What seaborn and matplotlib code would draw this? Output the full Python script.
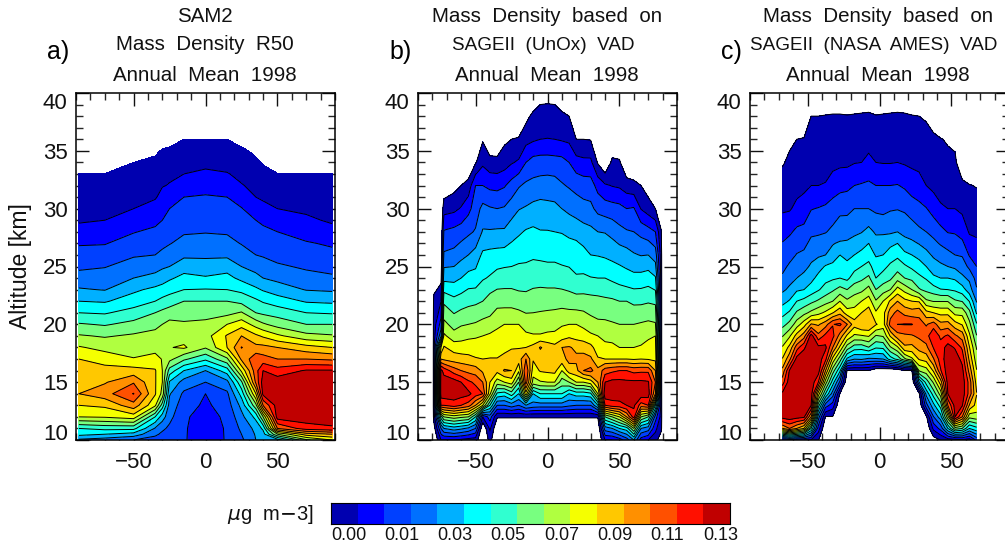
import numpy as np
import matplotlib
matplotlib.use("Agg")
import matplotlib.pyplot as plt
import seaborn as sns

sns.set_theme(style="ticks")
plt.rcParams['font.family'] = ['Liberation Sans', 'DejaVu Sans']

# contour band index (band k lies between level k and k+1), -1 = no data
N = -1
band_colors = ["#0000b0", "#0000ff", "#0040ff", "#0070ff", "#00b0ff",
               "#00ffff", "#30ffd0", "#78ff80", "#b0ff40", "#f5ff00",
               "#ffc800", "#ff9000", "#ff5000", "#ff1000", "#c00000"]
cbar_labels = ["0.00", "0.01", "0.03", "0.05", "0.07", "0.09", "0.11", "0.13"]
band_width = 0.14 / 15

# a) SAM2, one list per latitude, from the lowest altitude upward
a_alt = [10, 10.5, 11] + list(range(12, 37))
a_lat = [-88, -70, -50, -35, -30, -25, -15, 0, 15, 25, 35, 40, 50, 70, 88]
a_cols = [
    [3.8, 5.3, 6, 9, 10, 11, 10.6, 10.3, 10, 9.1, 8.1, 7.1, 6, 5, 4.1, 3.4, 2.8, 2.4, 1.9, 1.3, .9, .7, .5, .25, 0],
    [3.5, 5, 6.3, 9.1, 10.2, 11.6, 10.9, 10.4, 9.55, 8.7, 7.9, 6.9, 5.9, 4.9, 3.95, 3.45, 2.95, 2.4, 1.95, 1.45, 1, .75, .5, .3, .03],
    [3, 4.6, 6.3, 9.5, 11.6, 13.05, 11.9, 10.4, 9.05, 8.6, 8.15, 7.3, 6.4, 5.5, 4.8, 4, 3.4, 2.9, 2.4, 1.95, 1.45, 1, .78, .55, .3, 0],
    [2.6, 3.2, 3.9, 6, 9.2, 10.1, 10.1, 10.1, 9.3, 8.7, 8.35, 7.7, 7, 6, 5.25, 4.25, 3.7, 3, 2.6, 2.2, 1.75, 1.4, .9, .7, .5, .25, -.2],
    [2.5, 2.8, 3.2, 4.5, 6.5, 8.7, 9, 9, 8.95, 8.65, 8.5, 8, 7.25, 6.3, 5.4, 4.55, 3.85, 3.2, 2.8, 2.4, 2, 1.7, 1.3, .95, .7, .45, .1, -.5],
    [2.4, 2.5, 2.8, 3.3, 3.6, 4.1, 4.9, 6.6, 8.3, 8.95, 8.7, 8.3, 7.5, 6.5, 5.65, 4.85, 4, 3.45, 2.95, 2.55, 2.25, 2, 1.6, 1.05, .85, .6, .3, -.6],
    [2.1, 2.1, 2.1, 2.15, 2.5, 2.8, 3.6, 5, 7.2, 9.15, 8.55, 8.15, 7.55, 7, 6, 5.3, 4.55, 3.8, 3.3, 2.9, 2.5, 2.3, 2, 1.5, 1, .7, .35, 0],
    [1.4, 1.45, 1.5, 1.6, 1.8, 2, 3, 4, 6.2, 8.1, 8.6, 8.2, 7.7, 7, 6.05, 5.1, 4.45, 3.8, 3.4, 2.95, 2.5, 2.3, 2.1, 1.6, 1.15, .8, .4, 0],
    [2.1, 2.1, 2.1, 2.2, 2.5, 2.8, 3.7, 5.5, 7.8, 10, 10.1, 9, 7.7, 7, 6, 5.3, 4.6, 3.8, 3.3, 2.9, 2.5, 2.3, 2, 1.45, 1.05, .7, .35, 0],
    [2.8, 3, 3.2, 3.7, 4.3, 5.4, 6.8, 9.2, 11.2, 12.05, 11, 9.6, 8.1, 6.7, 5.75, 4.75, 4, 3.45, 2.95, 2.55, 2.25, 2.05, 1.55, 1.05, .8, .6, .3, -.6],
    [4, 4.1, 4.3, 5.3, 7.7, 10, 12.2, 12.6, 12.7, 11.3, 10.2, 8.6, 7, 6.2, 5.2, 4.25, 3.7, 3, 2.6, 2.2, 2, 1.5, 1, .8, .55, .25, -.3],
    [4.3, 4.6, 5.2, 8, 12, 14.3, 14.5, 14, 12.4, 11.3, 9.85, 8.15, 6.8, 5.9, 4.9, 4, 3.45, 2.9, 2.4, 2.3, 1.75, 1.3, .85, .6, .35, -.1],
    [4.5, 8, 12, 14.5, 14.5, 14.5, 14.6, 13.4, 12, 11, 9.2, 7.6, 6.6, 5.5, 4.5, 3.75, 3.15, 2.65, 2.4, 2, 1.5, 1, .7, .45, .06],
    [7.8, 10.5, 13.5, 14.6, 14.7, 14.7, 14.6, 14.1, 12, 10.4, 8.3, 7, 6, 4.9, 3.95, 3.35, 2.85, 2.5, 2.1, 1.55, 1.2, .8, .55, .3, 0],
    [9, 11, 13.8, 14.7, 14.7, 14.7, 14.7, 14.1, 11.8, 10, 8.1, 7, 5.9, 4.8, 3.85, 3.15, 2.7, 2.3, 1.85, 1.35, .85, .65, .45, .25, 0],
]

# b) SAGEII (UnOx)
b_alt = list(range(10, 21)) + list(range(22, 41, 2))
b_lat = [-80, -79, -74, -72] + list(range(-65, 80, 5)) + [79, 80]
b_cols = [
    [],
    [N, -.5, .4, .6, .6, .6, .6, .6, .6, .5, .5, .3, -.7],
    [1, 3, 6.5, 13, 14.6, 14.6, 14.3, 11, 9, 3.8, 2.4, 1, -.3],
    [1, 4, 8, 13, 14.7, 14.6, 13.6, 10.8, 10.1, 9.2, 8.3, 6.8, 4.7, 3.15, 2.1, .6, -.8],
    [1, 4.5, 8.5, 13.5, 14.6, 14.5, 12.5, 10.5, 9.6, 8.4, 7.6, 6.3, 4.7, 3.3, 2.3, .75, -.35],
    [.8, 4.2, 8.2, 13, 14.5, 14, 12, 10.4, 9.5, 8.6, 7.9, 6.5, 5, 3.7, 2.5, 1.1, 0],
    [.6, 3.8, 8, 12.5, 14.3, 13.2, 11.7, 10.3, 9.5, 8.8, 8, 6.7, 5.4, 4, 2.8, 1.7, .4],
    [.5, 3, 6, 11, 13.5, 12.8, 11.5, 10.1, 9.4, 8.9, 8.1, 6.8, 5.4, 4.4, 3.1, 2.5, 2, -.1],
    [N, N, 1, 9, 13, 12, 10.8, 10, 9.5, 9, 8.3, 7, 5.9, 5.2, 4.1, 3.3, 2, .8, -.1],
    [.3, 1.2, 2.5, 6, 9.2, 10, 10.4, 10.05, 9.5, 9.2, 8.3, 7.45, 6.1, 5.3, 4.1, 3.1, 1.75, .4],
    [N, N, .1, 3, 5.8, 8.5, 10.3, 10.05, 9.5, 9.3, 8.8, 7.65, 6.4, 5.35, 4.15, 3, 1.7, .35],
    [N, N, .1, 3, 5.5, 9, 11.1, 10.2, 9.8, 9.4, 9, 7.6, 6.5, 5.4, 4.15, 3.1, 1.9, .55, -.2],
    [N, N, .1, 3.5, 6.5, 9.5, 11, 10.6, 9.9, 9.4, 9, 7.6, 6.5, 5.5, 4.6, 3.5, 2.4, .9, 0],
    [N, N, .1, 3, 5, 7, 9.2, 10.5, 9.95, 9.4, 9, 7.4, 6.5, 5.7, 4.85, 3.95, 2.9, 1.15, .1],
    [N, N, .1, 4, 9.6, 12.5, 13, 12, 10, 9.2, 8.6, 7.35, 6.5, 5.75, 5.1, 4.1, 3.2, 2, .65, -.3],
    [N, N, .1, 3.6, 5, 8.6, 9.5, 10.1, 10.3, 9.1, 8.5, 7.5, 6.6, 5.85, 5.2, 4.3, 3.3, 2.4, .85, .25],
    [N, N, .1, 3.5, 6, 8.9, 10.1, 10.5, 11.1, 9.1, 8.5, 7.6, 6.6, 5.8, 5.05, 4.4, 3.4, 2.45, 1, .3, -.3],
    [N, N, .1, 3.5, 6, 9, 10.2, 10.4, 10.6, 9.2, 8.6, 7.6, 6.55, 5.75, 5.05, 4.3, 3.45, 2.45, 1.03, .35, -.3],
    [N, N, .1, 3.5, 6, 9, 10.3, 10.5, 10.3, 9.2, 8.7, 7.6, 6.55, 5.75, 5, 4.25, 3.4, 2.4, 1, .3, -.3],
    [N, N, .1, 3.5, 6, 7.5, 9, 10.6, 11, 9.5, 8.9, 7.6, 6.45, 5.65, 4.95, 4, 3.1, 2.35, .9, .25],
    [N, N, .1, 3.2, 5, 8, 10.5, 11.3, 11.1, 9.8, 9, 7.45, 6.4, 5.55, 4.8, 3.75, 2.9, 2, .8, 0],
    [N, N, .1, 3, 5.5, 9, 10.7, 11.2, 10.8, 9.6, 9, 7.4, 6.1, 5.5, 4.7, 3.5, 2.7, 1.4, 0],
    [N, N, .1, 3, 5.5, 9, 12, 11.3, 10.7, 9.4, 8.8, 7.4, 6.15, 5.35, 4.4, 3.35, 2.5, 1.25, 0],
    [N, N, .1, 3, 5.8, 9.5, 12.3, 11.2, 10.3, 9.2, 8.4, 7.35, 6.05, 5, 4.25, 3.25, 2.45, 1.25, -.05],
    [N, N, .1, 5, 9, 11, 11.3, 10.1, 9.5, 9, 8.2, 7.3, 6, 4.95, 4, 2.7, 1.65, -.1],
    [1, 3.5, 7, 13, 14.8, 14, 12.5, 10, 9.3, 8.7, 8.2, 7.2, 6, 4.85, 3.95, 2.5, 1.15],
    [1, 4, 8, 13.5, 14.7, 14.3, 12.8, 10, 9.2, 8.7, 8.1, 7.15, 5.8, 4.7, 3.7, 2.4, .95, .25],
    [1.5, 5, 9, 13.6, 14.7, 14.3, 13, 10, 9, 8.5, 8, 7, 5.6, 4.55, 3.3, 2.3, .85, .15],
    [2.5, 5.5, 11, 14, 14.7, 14.2, 13, 10, 9, 8.5, 8, 7, 5.4, 4.4, 3.1, 2, .5],
    [4, 8, 13.5, 14.2, 14.7, 14.2, 12.7, 9.9, 9, 8.5, 8, 6.8, 5.3, 4.1, 3, 2.1, .3],
    [1.5, 4, 8, 12.5, 14.7, 14.2, 12.8, 10, 9.1, 8.6, 8.1, 6.8, 5.35, 3.95, 2.7, .95, 0],
    [1, 3.5, 7, 13, 14.5, 14.1, 12.8, 9.9, 9.4, 8.8, 8.2, 6.9, 5.5, 4, 2.4, .5, -.5],
    [.6, 1.2, 2.5, 6, 11, 12, 11, 9.8, 9.4, 9, 8.1, 6.8, 5.1, 3.5, 2, 0],
    [N, .4, .6, .6, .6, .6, .6, .6, .6, .6, .6, .6, .6, .5, .1],
    [],
]

# c) SAGEII (NASA AMES)
c_alt = list(range(10, 29)) + list(range(30, 41, 2))
c_lat = list(np.arange(-67.5, 70, 5))
c_cols = [
    [1, 11, 14.4, 14.6, 14.2, 12.5, 11.25, 10.05, 9.1, 7.9, 6.65, 5.65, 4.65, 3.8, 3.15, 2.75, 2.4, 2.05, 1.62, .86, .4, -.1],
    [1.5, 12, 14.6, 14.7, 14.7, 14.6, 14.1, 11.7, 10.3, 8.85, 7.3, 6.15, 5.1, 4.2, 3.65, 3.15, 2.7, 2.3, 1.85, .9, .55, .2, -.2],
    [1.3, 11, 14.4, 14.7, 14.7, 14.7, 14.6, 14.4, 12.55, 10.4, 8.5, 7.15, 6, 4.85, 4, 3.55, 3.05, 2.65, 2.2, 1.25, .65, .3, 0],
    [1, 10, 14.2, 14.6, 14.7, 14.7, 14.7, 14.6, 13.85, 11.55, 9.55, 7.7, 6.3, 5, 4.3, 3.7, 3.2, 2.75, 2.3, 1.4, .8, .4, .05, -.7],
    [.9, 6, 11, 14, 14.5, 14.7, 14.7, 14.7, 14.7, 14.5, 11.1, 8.25, 6.75, 5.45, 4.7, 4.15, 3.7, 3.25, 2.8, 1.95, 1, .65, .35, 0],
    [.05, 1.5, 3.5, 6.5, 9.5, 13, 14.5, 14.6, 14.3, 12.3, 10.85, 8.7, 7.15, 5.9, 5.3, 4.6, 3.85, 3.35, 2.85, 2.05, 1, .7, .35, 0],
    [N, N, -.1, 2.5, 6, 8.5, 11, 13.3, 14.2, 13.3, 11.6, 9.2, 7.6, 6.4, 5.7, 5.1, 4, 3.45, 2.95, 2.2, 1.05, .7, .4, .05],
    [N, N, -.05, 1.5, 3.5, 5.5, 7.5, 9.7, 12, 13.3, 12.95, 9.95, 8, 6.85, 5.85, 5.35, 4.3, 3.95, 3.2, 2.5, 1.4, .75, .45, .1],
    [N, N, N, N, -.05, 2.8, 5.2, 7.5, 9.8, 11.6, 13.2, 10.7, 9, 7.35, 6, 5.5, 5, 4.1, 3.55, 2.75, 1.65, .8, .5, .1],
    [N, N, N, N, N, N, -.05, 4.8, 7.5, 9.8, 12.05, 9.45, 8.2, 7, 5.75, 5.3, 4.7, 4.15, 3.6, 2.75, 1.75, .8, .45, .05],
    [N, N, N, N, N, N, -.05, 4.05, 6.5, 8.8, 10.4, 9.4, 8.55, 7.55, 6.5, 5.65, 5, 4.35, 3.8, 3, 2, .95, .55, .1],
    [N, N, N, N, N, N, -.05, 4.15, 6.4, 8.9, 11, 10, 9, 7.75, 6.8, 6, 5.3, 4.6, 3.95, 3, 2.1, 1, .6, .15],
    [N, N, N, N, N, N, -.05, 3.8, 6.95, 9.1, 11, 10.5, 9.5, 8.35, 7.2, 6.3, 5.6, 5, 4.3, 3, 2.2, 1.2, .7, .2],
    [N, N, N, N, N, N, -.8, 3.9, 6.1, 7.9, 10.1, 9.15, 8.1, 7, 6, 5.5, 4.9, 4.4, 3.85, 2.8, 2, 1, .5, .05],
    [N, N, N, N, N, N, -.8, 4, 6.2, 8.1, 9.5, 9.6, 9, 7.55, 6.45, 5.7, 5, 4.45, 3.85, 2.7, 2, .95, .45, .1],
    [N, N, N, N, N, N, -1, 5.5, 7.85, 10.1, 12.4, 11.55, 10.15, 8, 6.8, 6.2, 5.5, 4.75, 3.85, 2.9, 2, .95, .5, .15],
    [N, N, N, N, N, N, -.8, 6.3, 8.8, 11.6, 13, 12.3, 11, 9.4, 7.6, 6.5, 5.8, 5, 4, 2.95, 2.05, 1, .6, .2],
    [N, N, N, N, N, N, -.05, 7.8, 10.8, 11.8, 13.05, 11.7, 10.3, 8.65, 7, 6.15, 5.25, 4.4, 3.7, 2.85, 1.85, .9, .55, .15],
    [N, N, N, N, N, N, -.05, 8.8, 10.7, 11.9, 13.05, 11.45, 10, 8, 6.75, 5.8, 5, 4.2, 3.55, 2.5, 1.55, .8, .45, .05],
    [N, N, N, N, -.2, 4, 8.1, 10.1, 11.35, 12.2, 12.4, 11.7, 9.9, 7.1, 6.25, 5.45, 4.7, 3.95, 3.2, 2.3, 1.35, .75, .4, 0],
    [N, N, -.2, 2.6, 4.3, 6.4, 8.55, 10.4, 11.75, 12.55, 11.9, 10.35, 8.2, 6.75, 5.9, 5, 4.3, 3.65, 3, 2.05, 1, .7, .3, -.1],
    [-.5, 1.25, 2.95, 4.7, 6.45, 8.15, 10.15, 11.9, 13.05, 13.9, 12.5, 10, 7.95, 6.45, 5.2, 4.45, 3.85, 3.25, 2.7, 1.6, .75, .55, .2, -.5],
    [.02, 2.35, 4.6, 6.45, 8.45, 10.5, 12.9, 13.5, 13.5, 12.75, 11.3, 9.7, 7.95, 6.05, 5, 4.2, 3.55, 2.9, 2.3, 1.15, .55, .3, .05],
    [.5, 5, 8.6, 12, 14, 14.4, 14.6, 14.6, 14.4, 13.15, 11.4, 9.7, 7.95, 6, 5, 4, 3.3, 2.6, 1.95, 1, .6, .25, -.1],
    [.6, 7.5, 14, 14.4, 14.6, 14.7, 14.7, 14.6, 13.9, 12.2, 10.4, 8.7, 7.15, 5.85, 4.85, 3.8, 3, 2.45, 1.9, 1, .6, .25, -.3],
    [.8, 7, 12, 14.1, 14.6, 14.6, 14.3, 13.7, 12.8, 11.55, 9.9, 8.7, 6.95, 5.45, 4.2, 3.55, 2.9, 2.2, 1.6, .8, .35],
    [.5, 5, 8.3, 10.9, 12.6, 12.6, 11.6, 10.75, 10.05, 9.2, 8.3, 7.3, 5.95, 4.45, 3.8, 2.75, 1.9, 1.35, .9, .5, .05],
    [2.3, 5.7, 8.6, 9.6, 10.05, 9.55, 9.05, 8.4, 7.9, 7.05, 6.1, 4.85, 3.9, 3.1, 2.6, 2, 1.6, 1.15, .85, .4, -.05],
]

titles = [["SAM2", "Mass  Density  R50", "Annual  Mean  1998"],
          ["Mass  Density  based  on", "SAGEII  (UnOx)  VAD", "Annual  Mean  1998"],
          ["Mass  Density  based  on", "SAGEII  (NASA  AMES)  VAD", "Annual  Mean  1998"]]
panel_tags = ["a)", "b)", "c)"]


def to_grid(cols, n_rows):
    # columns stop at the top of the data, everything above is empty
    rows = [list(c) + [N] * (n_rows - len(c)) for c in cols]
    return np.array(rows, dtype=float).T * band_width


W, H = 1005, 545
levels = np.arange(16) * band_width
palette = sns.color_palette(band_colors)

fig = plt.figure(figsize=(W / 100, H / 100), dpi=100, facecolor="white")
lefts = [76, 418, 750]
centers = [205, 547, 878]
tag_x = [47, 389, 721]
panels = [(a_lat, a_alt, a_cols, False),
          (b_lat, b_alt, b_cols, True),
          (c_lat, c_alt, c_cols, True)]

for i, (lat, alt, cols, outline) in enumerate(panels):
    ax = fig.add_axes([lefts[i] / W, 1 - 440 / H, 259 / W, 347 / H])
    z = to_grid(cols, len(alt))
    ax.contourf(lat, alt, z, levels=levels, colors=palette)
    line_levels = levels[:-1] if outline else levels[1:-1]
    ax.contour(lat, alt, z, levels=line_levels, colors="black", linewidths=0.7)

    ax.set_xlim(-90, 90)
    ax.set_ylim(10, 40)
    ax.set_xticks([-50, 0, 50])
    ax.set_xticks(np.arange(-90, 91, 10), minor=True)
    ax.set_yticks(np.arange(10, 41, 5))
    ax.set_yticks(np.arange(10, 41, 1), minor=True)
    ax.tick_params(which="major", direction="in", length=9.5, width=1, top=True, right=True,
                   labelsize=16, colors="#111111")
    ax.tick_params(which="minor", direction="in", length=5, width=1, top=True, right=True)
    ax.tick_params(axis="x", which="major", pad=9)
    ax.tick_params(axis="y", which="major", pad=6)
    ylabels = ax.get_yticklabels()
    ylabels[0].set_va("baseline")
    ylabels[-1].set_va("top")
    for s in ax.spines.values():
        s.set_linewidth(1.1)
        s.set_color("black")

    for j, (line, y) in enumerate(zip(titles[i], [17, 45, 75])):
        # the SAGEII lines sit a little left and are narrower
        sage = line.startswith("SAGEII")
        fig.text((centers[i] - (4 if sage else 0)) / W, 1 - y / H, line, ha="center", va="center",
                 fontsize=13.6 if sage else 14.8, color="#111111")
    fig.text(tag_x[i] / W, 1 - 52 / H, panel_tags[i], ha="left", va="center", fontsize=18, color="black")

fig.text(21 / W, 1 - 266 / H, "Altitude [km]", rotation=90, ha="center", va="center", fontsize=16.5, color="#111111")

# colour bar is a one row heatmap
cax = fig.add_axes([331 / W, 1 - 524 / H, 399 / W, 21 / H])
sns.heatmap(np.arange(15)[None, :], cmap=palette, cbar=False, ax=cax, linewidths=0)
cax.set_xticks(np.arange(0, 15, 2))
cax.set_xticklabels(cbar_labels, rotation=0, ha="left", fontsize=13, color="#111111")
cax.set_yticks([])
cax.tick_params(axis="x", length=0, pad=2)
for s in cax.spines.values():
    s.set_visible(True)
    s.set_linewidth(0.8)
    s.set_color("black")
fig.text(270 / W, 1 - 515 / H, r"$\mu$g  m$-$3]", ha="center", va="center", fontsize=14.5, color="#111111")

fig.savefig("out.png", dpi=100)
